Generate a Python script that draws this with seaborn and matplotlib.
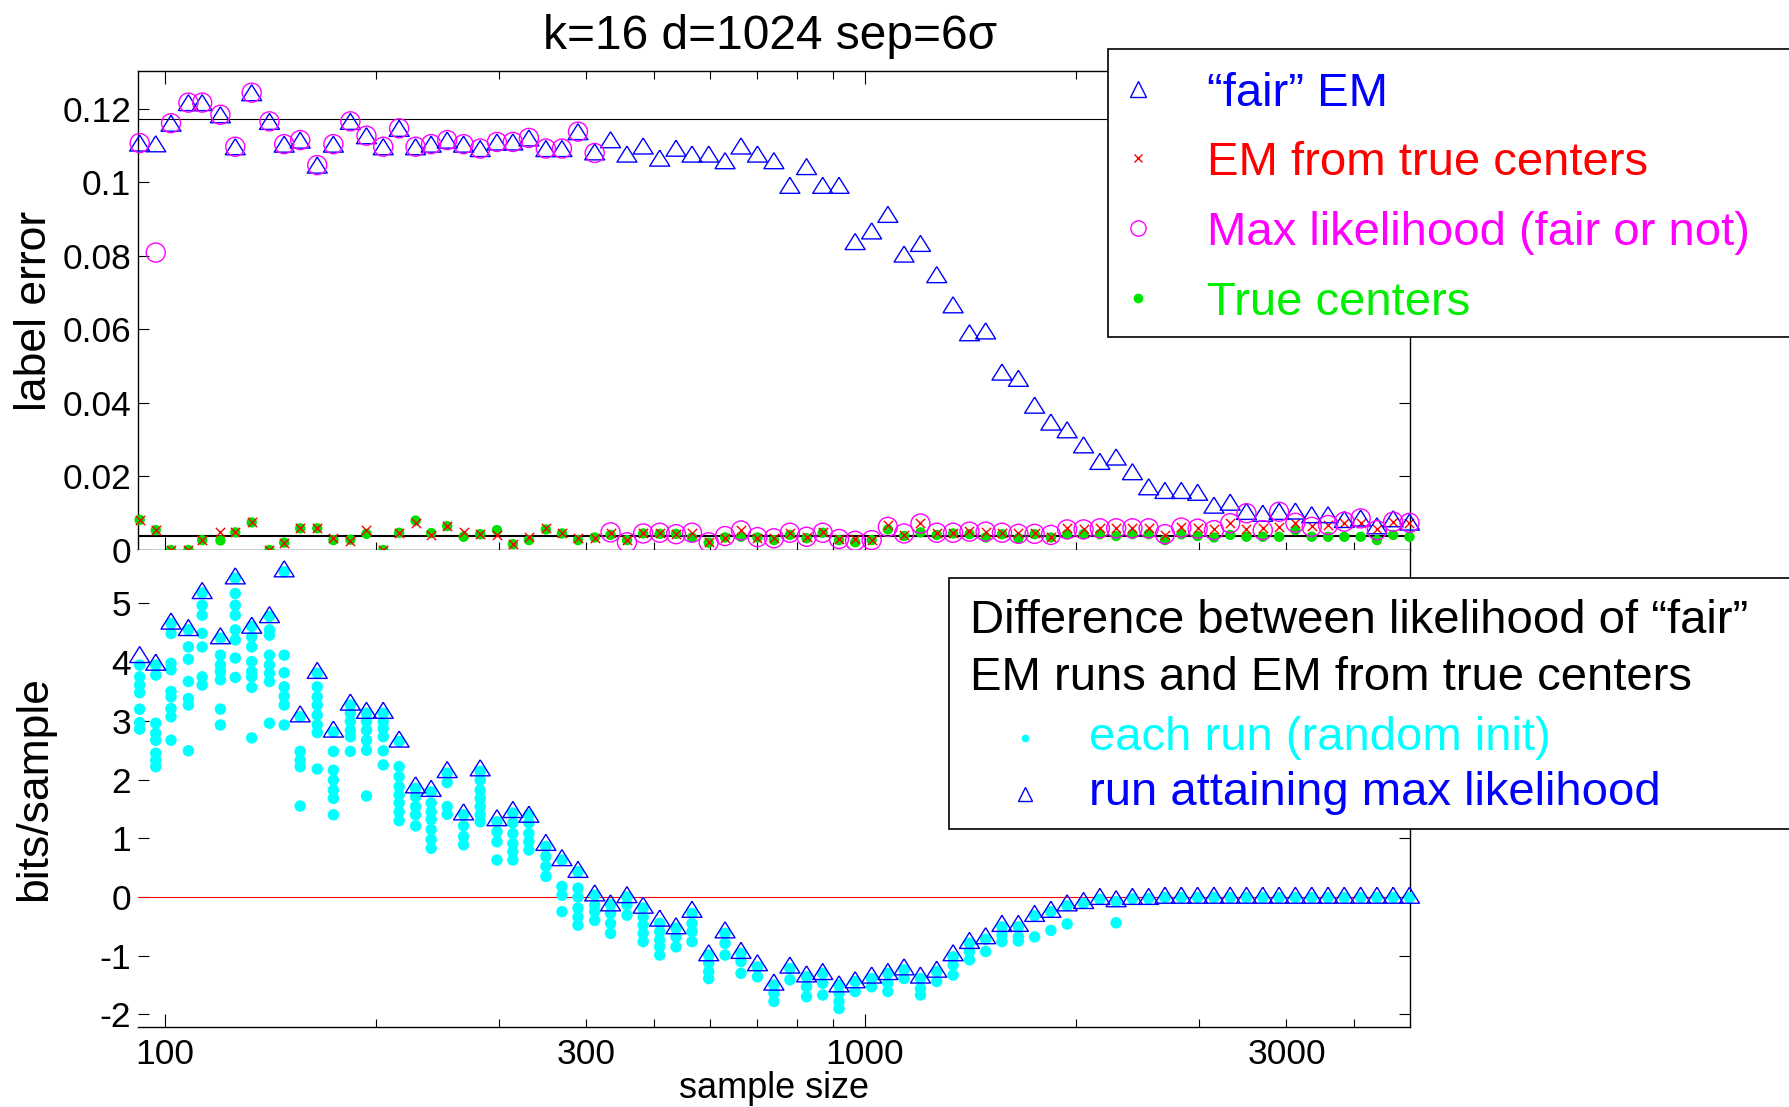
import matplotlib
matplotlib.use("Agg")
import pandas as pd
import matplotlib.pyplot as plt
import seaborn as sns
from matplotlib.patches import Rectangle
from matplotlib.ticker import FixedLocator, FixedFormatter, NullFormatter

# ----------------------------
# data
# ----------------------------
sample_size = [92, 97, 102, 108, 113, 120, 126, 133, 141, 148,
               156, 165, 174, 184, 194, 205, 216, 228, 240, 253,
               267, 282, 298, 314, 331, 350, 369, 389, 411, 433,
               457, 482, 509, 537, 566, 598, 631, 665, 702, 741,
               781, 825, 870, 918, 968, 1022, 1078, 1137, 1200, 1266,
               1336, 1410, 1487, 1569, 1656, 1747, 1843, 1944, 2052, 2165,
               2284, 2410, 2542, 2682, 2830, 2986, 3151, 3324, 3507, 3700,
               3904, 4119, 4346, 4586, 4838, 5105, 5386, 5682, 5995]

# top panel: label error
fair_em_err = [0.1107, 0.1105, 0.1161, 0.1217, 0.1217, 0.1184, 0.1097, 0.1244, 0.1166, 0.1104,
               0.1115, 0.1047, 0.1104, 0.1166, 0.1127, 0.1097, 0.1147, 0.1097, 0.1104, 0.1115,
               0.1104, 0.1092, 0.1110, 0.1110, 0.1121, 0.1092, 0.1092, 0.1138, 0.1083, 0.1116,
               0.1077, 0.1099, 0.1066, 0.1093, 0.1077, 0.1077, 0.1059, 0.1099, 0.1077, 0.1059,
               0.0992, 0.1043, 0.0992, 0.0992, 0.0839, 0.0868, 0.0913, 0.0805, 0.0834, 0.0749,
               0.0667, 0.0591, 0.0596, 0.0484, 0.0467, 0.0394, 0.0348, 0.0327, 0.0286, 0.0241,
               0.0253, 0.0213, 0.0172, 0.0162, 0.0162, 0.0157, 0.0122, 0.0130, 0.0105, 0.0100,
               0.0105, 0.0106, 0.0096, 0.0096, 0.0083, 0.0087, 0.0066, 0.0085, 0.0076]

max_lik_err = [0.1107, 0.0809, 0.1161, 0.1217, 0.1217, 0.1184, 0.1097, 0.1244, 0.1166, 0.1104,
               0.1115, 0.1047, 0.1104, 0.1166, 0.1127, 0.1097, 0.1147, 0.1097, 0.1104, 0.1115,
               0.1104, 0.1092, 0.1110, 0.1110, 0.1121, 0.1092, 0.1092, 0.1138, 0.1080, 0.0048,
               0.0021, 0.0045, 0.0047, 0.0043, 0.0047, 0.0021, 0.0038, 0.0053, 0.0035, 0.0032,
               0.0047, 0.0036, 0.0047, 0.0030, 0.0025, 0.0027, 0.0063, 0.0045, 0.0072, 0.0047,
               0.0047, 0.0050, 0.0050, 0.0047, 0.0044, 0.0044, 0.0041, 0.0056, 0.0056, 0.0059,
               0.0059, 0.0059, 0.0059, 0.0043, 0.0061, 0.0058, 0.0054, 0.0073, 0.0100, 0.0054,
               0.0104, 0.0074, 0.0063, 0.0068, 0.0077, 0.0086, 0.0054, 0.0077, 0.0074]

em_true_err = [0.0082, 0.0054, 0.0000, 0.0000, 0.0027, 0.0050, 0.0048, 0.0075, 0.0000, 0.0020,
               0.0059, 0.0059, 0.0034, 0.0025, 0.0054, 0.0000, 0.0047, 0.0074, 0.0042, 0.0065,
               0.0050, 0.0043, 0.0041, 0.0016, 0.0036, 0.0059, 0.0047, 0.0032, 0.0034, 0.0047,
               0.0027, 0.0047, 0.0047, 0.0044, 0.0047, 0.0023, 0.0034, 0.0054, 0.0034, 0.0032,
               0.0047, 0.0036, 0.0050, 0.0030, 0.0030, 0.0027, 0.0068, 0.0041, 0.0074, 0.0045,
               0.0047, 0.0052, 0.0050, 0.0047, 0.0045, 0.0047, 0.0036, 0.0059, 0.0056, 0.0059,
               0.0059, 0.0061, 0.0061, 0.0041, 0.0063, 0.0059, 0.0056, 0.0073, 0.0056, 0.0059,
               0.0063, 0.0074, 0.0065, 0.0068, 0.0073, 0.0074, 0.0056, 0.0077, 0.0074]

true_ctr_err = [0.0082, 0.0054, 0.0000, 0.0000, 0.0027, 0.0026, 0.0048, 0.0075, 0.0000, 0.0020,
                0.0059, 0.0059, 0.0027, 0.0028, 0.0044, 0.0000, 0.0047, 0.0080, 0.0046, 0.0065,
                0.0036, 0.0043, 0.0054, 0.0016, 0.0027, 0.0056, 0.0045, 0.0027, 0.0034, 0.0041,
                0.0027, 0.0045, 0.0044, 0.0044, 0.0034, 0.0020, 0.0034, 0.0036, 0.0034, 0.0027,
                0.0041, 0.0032, 0.0047, 0.0027, 0.0021, 0.0027, 0.0056, 0.0038, 0.0048, 0.0041,
                0.0045, 0.0043, 0.0034, 0.0043, 0.0032, 0.0043, 0.0034, 0.0043, 0.0043, 0.0043,
                0.0038, 0.0043, 0.0043, 0.0027, 0.0043, 0.0038, 0.0034, 0.0041, 0.0036, 0.0036,
                0.0036, 0.0054, 0.0036, 0.0036, 0.0036, 0.0036, 0.0027, 0.0041, 0.0036]

# black reference levels drawn across the top panel
ref_levels = [0.1173, 0.0038]

# bottom panel: bits/sample, run attaining max likelihood
best_run_bits = [4.13, 4.00, 4.70, 4.59, 5.22, 4.45, 5.47, 4.63, 4.81, 5.59,
                 3.12, 3.86, 2.86, 3.32, 3.18, 3.18, 2.69, 1.91, 1.85, 2.17,
                 1.45, 2.20, 1.35, 1.49, 1.41, 0.93, 0.67, 0.47, 0.07, -0.10,
                 0.04, -0.14, -0.36, -0.49, -0.21, -0.95, -0.56, -0.91, -1.12, -1.45,
                 -1.16, -1.31, -1.27, -1.48, -1.41, -1.33, -1.27, -1.19, -1.33, -1.23,
                 -0.95, -0.74, -0.66, -0.45, -0.45, -0.28, -0.21, -0.10, -0.06, 0.01,
                 -0.03, 0.01, 0.01, 0.03, 0.03, 0.03, 0.03, 0.03, 0.03, 0.03,
                 0.03, 0.03, 0.03, 0.03, 0.03, 0.03, 0.03, 0.03, 0.03]

# bottom panel: every random-init run, one list per sample size
each_run_bits = [
    [3.95, 3.75, 3.61, 3.48, 3.20, 2.97, 2.86],
    [3.95, 3.78, 2.96, 2.79, 2.67, 2.45, 2.33, 2.22],
    [4.66, 4.49, 3.98, 3.87, 3.50, 3.41, 3.21, 3.07, 2.67],
    [4.55, 4.26, 4.05, 3.67, 3.38, 3.27, 2.49],
    [5.18, 4.97, 4.80, 4.49, 4.26, 3.75, 3.61],
    [4.41, 4.12, 3.95, 3.84, 3.70, 3.20, 2.93],
    [5.43, 5.17, 4.97, 4.80, 4.55, 4.38, 4.07, 3.74],
    [4.61, 4.43, 4.26, 4.01, 3.84, 3.75, 3.57, 2.71],
    [4.78, 4.55, 4.46, 4.12, 3.95, 3.81, 3.67, 2.96],
    [5.54, 4.12, 3.82, 3.58, 3.42, 3.27, 2.93],
    [3.07, 2.48, 2.33, 2.22, 1.55],
    [3.81, 3.58, 3.41, 3.27, 3.10, 2.93, 2.80, 2.18],
    [2.81, 2.48, 2.16, 1.99, 1.82, 1.68, 1.40],
    [3.27, 3.13, 2.99, 2.84, 2.73, 2.48],
    [3.13, 2.99, 2.84, 2.67, 2.50, 1.72],
    [3.13, 2.99, 2.87, 2.73, 2.49, 2.25],
    [2.65, 2.22, 2.05, 1.88, 1.74, 1.60, 1.45, 1.30],
    [1.85, 1.71, 1.54, 1.40, 1.21],
    [1.79, 1.60, 1.45, 1.32, 1.15, 0.98, 0.83],
    [2.11, 1.95, 1.54, 1.41],
    [1.40, 1.21, 1.03, 0.89],
    [2.14, 1.99, 1.82, 1.68, 1.54, 1.40, 1.28],
    [1.28, 1.11, 0.94, 0.63],
    [1.43, 1.26, 1.08, 0.91, 0.77, 0.63],
    [1.40, 1.26, 1.08, 0.94, 0.80],
    [0.86, 0.69, 0.52, 0.35],
    [0.63, 0.18, 0.03, -0.25],
    [0.43, 0.15, 0.00, -0.19, -0.34, -0.48],
    [0.03, -0.14, -0.25, -0.40],
    [-0.13, -0.28, -0.45, -0.62],
    [0.00, -0.13, -0.31],
    [-0.19, -0.34, -0.48, -0.62, -0.76],
    [-0.45, -0.59, -0.73, -0.85, -0.99],
    [-0.53, -0.68, -0.85],
    [-0.28, -0.45, -0.59, -0.76],
    [-0.99, -1.13, -1.27, -1.39],
    [-0.62, -0.79, -0.99],
    [-0.96, -1.10, -1.30],
    [-1.19, -1.36],
    [-1.50, -1.64, -1.78],
    [-1.22, -1.41],
    [-1.36, -1.53, -1.70],
    [-1.30, -1.47, -1.67],
    [-1.50, -1.64, -1.78, -1.90],
    [-1.44, -1.61],
    [-1.39, -1.53],
    [-1.30, -1.47, -1.61],
    [-1.24, -1.39],
    [-1.39, -1.56, -1.67],
    [-1.27, -1.44],
    [-1.02, -1.16, -1.33],
    [-0.79, -0.93, -1.07],
    [-0.72, -0.93],
    [-0.51, -0.65, -0.76],
    [-0.51, -0.68, -0.75],
    [-0.32, -0.68],
    [-0.25, -0.57],
    [-0.15, -0.46],
    [-0.11],
    [-0.04],
    [-0.08, -0.44],
    [-0.03],
    [-0.03],
] + [[-0.01]] * 16

# axis ticks / labels as printed in the figure
major_x = [100, 1000]
minor_x = [200, 300, 400, 500, 600, 700, 800, 900, 2000, 3000, 4000, 5000]
minor_x_labels = ["", "", "300", "", "", "", "", "", "", "", "3000", ""]
top_yticks = [0, 0.02, 0.04, 0.06, 0.08, 0.1, 0.12]
top_ylabels = ["0", "0.02", "0.04", "0.06", "0.08", "0.1", "0.12"]
bot_yticks = [-2, -1, 0, 1, 2, 3, 4, 5]
bot_ylabels = ["-2", "-1", "0", "1", "2", "3", "4", "5"]

# ----------------------------
# tables for seaborn
# ----------------------------
top_df = pd.DataFrame({"n": sample_size, "fair": fair_em_err, "ml": max_lik_err,
                       "emtrue": em_true_err, "true": true_ctr_err})
best_df = pd.DataFrame({"n": sample_size, "bits": best_run_bits})
runs_df = pd.DataFrame([(n, v) for n, vals in zip(sample_size, each_run_bits) for v in vals],
                       columns=["n", "bits"])

# ----------------------------
# style
# ----------------------------
sns.set_style("white")
plt.rcParams["font.family"] = ["Liberation Sans", "DejaVu Sans"]
plt.rcParams["axes.linewidth"] = 1.0
for key in ["text.color", "axes.labelcolor", "xtick.color", "ytick.color", "axes.edgecolor"]:
    plt.rcParams[key] = "black"
TICK = 25.5
LEG = 34

W, H = 1790, 1107
fig = plt.figure(figsize=(W / 100, H / 100), dpi=100)
ax1 = fig.add_axes([138 / W, 1 - 550 / H, 1272 / W, 479 / H])
ax2 = fig.add_axes([138 / W, 1 - 1027 / H, 1272 / W, 477 / H])

tri = [(0, 0.8), (-1, -0.8), (1, -0.8), (0, 0.8)]

# ----------------------------
# top panel: label error
# ----------------------------
for lvl, lw in zip(ref_levels, [0.8, 1.5]):
    ax1.axhline(lvl, color="black", lw=lw, zorder=1)

sns.scatterplot(data=top_df, x="n", y="true", ax=ax1, marker="o", color="#00e000",
                edgecolor="none", s=56, clip_on=False, zorder=3, legend=False)
sns.scatterplot(data=top_df, x="n", y="emtrue", ax=ax1, marker="x", color="red",
                s=45, linewidth=1.0, clip_on=False, zorder=4, legend=False)
sns.scatterplot(data=top_df, x="n", y="fair", ax=ax1, marker=tri, color="blue",
                facecolor="none", edgecolor="blue", s=207, linewidth=1.0,
                clip_on=False, zorder=5, legend=False)
sns.scatterplot(data=top_df, x="n", y="ml", ax=ax1, marker="o", color="magenta",
                facecolor="none", edgecolor="magenta", s=188, linewidth=1.0,
                clip_on=False, zorder=6, legend=False)

# ----------------------------
# bottom panel: likelihood difference
# ----------------------------
ax2.axhline(0, color="red", lw=0.8, zorder=1)
sns.scatterplot(data=runs_df, x="n", y="bits", ax=ax2, marker="o", color="cyan",
                edgecolor="none", s=68, clip_on=False, zorder=3, legend=False)
sns.scatterplot(data=best_df, x="n", y="bits", ax=ax2, marker=tri, color="blue",
                facecolor="none", edgecolor="blue", s=207, linewidth=1.0,
                clip_on=False, zorder=5, legend=False)

# ----------------------------
# axes cosmetics
# ----------------------------
for ax in (ax1, ax2):
    ax.set_xscale("log")
    ax.set_xlim(91.5, 6005)
    ax.xaxis.set_major_locator(FixedLocator(major_x))
    ax.xaxis.set_minor_locator(FixedLocator(minor_x))
    ax.tick_params(axis="x", which="major", direction="in", length=9.5, width=0.8)
    ax.tick_params(axis="x", which="minor", direction="in", length=6, width=0.8)
    ax.tick_params(axis="y", which="major", direction="in", left=True, right=True,
                   length=8, width=0.8, labelsize=TICK, pad=5)
    ax.set_xlabel("")

ax1.set_ylim(0, 0.1303)
ax1.set_yticks(top_yticks)
ax1.set_yticklabels(top_ylabels)
ax1.tick_params(axis="x", which="both", top=True, bottom=True, labelbottom=False)
ax1.xaxis.set_minor_formatter(NullFormatter())
ax1.set_ylabel("label error", fontsize=32, va="center")
ax1.yaxis.set_label_coords(-0.081, 0.5)

ax2.set_ylim(-2.215, 5.911)
ax2.set_yticks(bot_yticks)
ax2.set_yticklabels(bot_ylabels)
ax2.spines["top"].set_visible(False)
ax2.spines["left"].set_visible(False)
ax2.xaxis.set_major_formatter(FixedFormatter(["100", "1000"]))
ax2.xaxis.set_minor_formatter(FixedFormatter(minor_x_labels))
ax2.tick_params(axis="x", which="both", top=False, bottom=True, labelsize=TICK, pad=8)
ax2.set_xlabel("sample size", fontsize=26, labelpad=0)
ax2.set_ylabel("bits/sample", fontsize=32, va="center")
ax2.yaxis.set_label_coords(-0.081, 0.5)

fig.text(770 / W, 1 - 49 / H, "k=16 d=1024 sep=6σ", ha="center", va="baseline", fontsize=34.5)

# ----------------------------
# hand-made legend boxes (they run off the right edge in the original)
# ----------------------------
ov = fig.add_axes([0, 0, 1, 1], zorder=10)
ov.set_xlim(0, W)
ov.set_ylim(H, 0)
ov.axis("off")

ov.add_patch(Rectangle((1108, 49), 760, 288, facecolor="white", edgecolor="black", lw=1.2))
top_items = [("“fair” EM", "blue", "^", 12, "none", 106),
             ("EM from true centers", "red", "x", 6, "red", 175),
             ("Max likelihood (fair or not)", "magenta", "o", 11, "none", 245),
             ("True centers", "#00ee00", "o", 6, "#00e000", 315)]
for label, col, mk, ms, fc, base in top_items:
    ov.plot([1138], [base - 17], marker=mk, ms=ms, mec=col, mfc=fc, mew=1.0, ls="none")
    ov.text(1207, base, label, color=col, fontsize=LEG, va="baseline")

ov.add_patch(Rectangle((949, 578), 900, 251, facecolor="white", edgecolor="black", lw=1.2))
ov.text(970, 633, "Difference between likelihood of “fair”", fontsize=LEG, va="baseline")
ov.text(970, 690, "EM runs and EM from true centers", fontsize=LEG, va="baseline")
ov.plot([1025], [738], marker="o", ms=5.5, mec="none", mfc="cyan", ls="none")
ov.text(1089, 750, "each run (random init)", color="cyan", fontsize=LEG, va="baseline")
ov.plot([1025], [794], marker="^", ms=10, mec="blue", mfc="none", mew=1.0, ls="none")
ov.text(1089, 805, "run attaining max likelihood", color="blue", fontsize=LEG, va="baseline")

plt.savefig("out.png", dpi=100)
